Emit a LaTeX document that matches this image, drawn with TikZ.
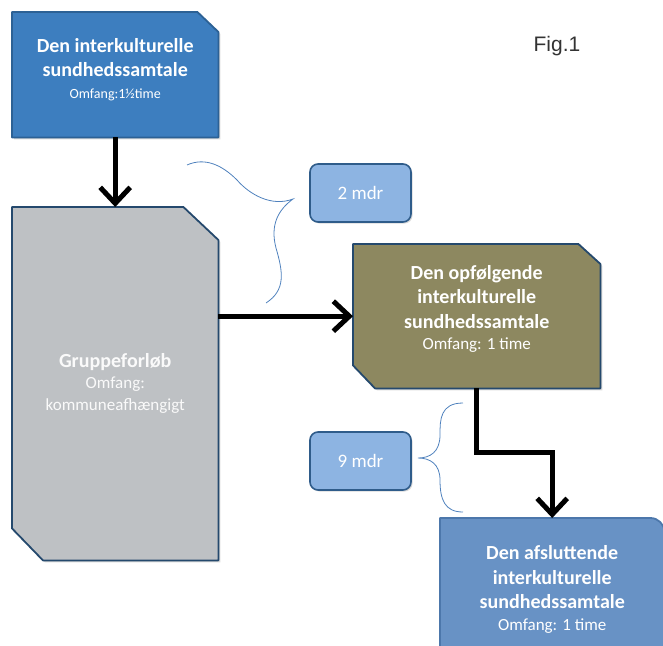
\documentclass[tikz,border=0pt]{standalone}
\usepackage{fontspec}
\setmainfont{Carlito}
\newfontfamily\figfont{Liberation Sans}
\usetikzlibrary{positioning,arrows.meta,backgrounds,shadows}

\definecolor{introblue}{HTML}{3D7EBF}
\definecolor{introline}{HTML}{2C6195}
\definecolor{groupgray}{HTML}{BEC1C4}
\definecolor{navyline}{HTML}{25496D}
\definecolor{olivefill}{HTML}{8D8860}
\definecolor{finalblue}{HTML}{6892C5}
\definecolor{finalline}{HTML}{4C77AB}
\definecolor{mdrblue}{HTML}{8DB4E2}
\definecolor{mdrline}{HTML}{2F5C8A}
\definecolor{braceblue}{HTML}{4F81BD}
\newcommand{\omf}[1]{{\mdseries\fontsize{17}{21}\selectfont #1}}

\begin{document}
\begin{tikzpicture}[x=1pt, y=-1pt,
  every node/.style={align=center, inner sep=0pt},
  box/.style={rectangle, text=white, font=\fontsize{20}{24.5}\selectfont\bfseries},
  mdrbox/.style={rectangle, rounded corners=8pt, fill=mdrblue, draw=mdrline, line width=1.6pt, minimum width=101pt, minimum height=58pt, text=white, font=\fontsize{19}{23}\selectfont,
    drop shadow={shadow xshift=1.5pt, shadow yshift=-1.5pt, opacity=0.3}},
  boxedge/.style={draw=#1, line width=1.8pt, line join=round, drop shadow={shadow xshift=2pt, shadow yshift=-2pt, opacity=0.3}},
  flowarrow/.style={line width=5pt, -{Straight Barb[length=16pt, width=30pt]}},
  curlybrace/.style={draw=braceblue, line width=0.8pt}]
\clip (0,0) rectangle (663,645);

% Main boxes
\node (intro) [box, minimum width=206pt, minimum height=125pt, text depth=13pt, anchor=north west] at (12,12)
  {Den interkulturelle\\sundhedssamtale\\[-3pt]{\mdseries\fontsize{14}{18}\selectfont Omfang:1½time}};
\node (group) [box, text=white!96!gray, minimum width=206pt, minimum height=353pt, anchor=north west] at (12,207)
  {Gruppeforløb\\[-4pt]\omf{Omfang:}\\[-2pt]\omf{kommuneafhængigt}};
\node (followup) [box, minimum width=247pt, minimum height=144pt, text depth=17pt, anchor=north west] at (353,244)
  {Den opfølgende\\interkulturelle\\sundhedssamtale\\[-3pt]\omf{Omfang: 1 time}};
\node (final) [box, minimum width=224pt, minimum height=142pt, anchor=north west] at (440,518)
  {Den afsluttende\\interkulturelle\\sundhedssamtale\\[-3pt]\omf{Omfang: 1 time}};

% Box shapes
\begin{scope}[on background layer]
  \path[boxedge=introline, fill=introblue] (intro.south west) -- (intro.north west)
    -- ([xshift=-21pt]intro.north east) -- ([yshift=-20pt]intro.north east) -- (intro.south east) -- cycle;
  \path[boxedge=navyline, fill=groupgray] (group.north west) -- ([xshift=-35pt]group.north east)
    -- ([yshift=-33pt]group.north east) -- (group.south east) -- ([xshift=31pt]group.south west)
    -- ([yshift=32pt]group.south west) -- cycle;
  \path[boxedge=navyline, fill=olivefill] (followup.north west) -- ([xshift=-22pt]followup.north east)
    -- ([yshift=-20pt]followup.north east) -- (followup.south east) -- ([xshift=22pt]followup.south west)
    -- ([yshift=23pt]followup.south west) -- cycle;
  \path[boxedge=finalline, fill=finalblue] (final.south west) -- (final.north west)
    [rounded corners=14pt] -- (final.north east) [sharp corners] -- (final.south east) -- cycle;
\end{scope}

% Duration boxes
\node (twomonths) [mdrbox] at (360.5,193) {2 mdr};
\node (ninemonths) [mdrbox] at (360.5,461) {9 mdr};

% Arrows
\draw[flowarrow] (intro) -- (group);
\draw[flowarrow] (group.east |- followup) -- (followup);
\draw[flowarrow] (followup) -- ++(0,136) -| (final);

% Braces
\path[curlybrace] (187,165) .. controls (205,157) and (222,165) .. (237,180)
  .. controls (250,195) and (272,207) .. (293,199)
  .. controls (278,210) and (270,225) .. (276,248)
  .. controls (283,272) and (286,290) .. (266,303);
\path[curlybrace] (463,403) .. controls (440,403) and (440,420) .. (440,435)
  .. controls (440,452) and (430,458) .. (418,458)
  .. controls (430,458) and (440,464) .. (440,480)
  .. controls (440,500) and (445,512) .. (463,512);

\node (figlabel) [font=\figfont\fontsize{21}{25}\selectfont, text=black!80] at (557,46) {Fig.1};
\end{tikzpicture}
\end{document}
